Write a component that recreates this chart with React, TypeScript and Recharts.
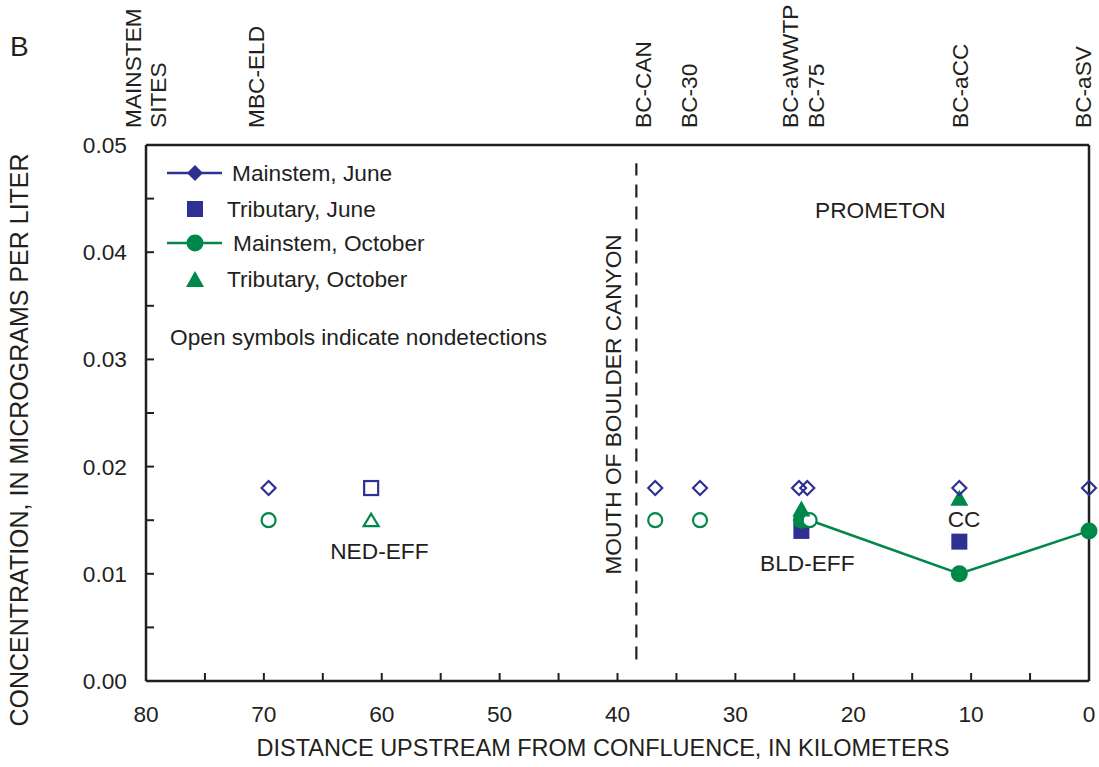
import React from 'react';
import { ScatterChart, Scatter, XAxis, YAxis, ReferenceLine, ReferenceDot } from 'recharts';

const BLUE = '#2e3192';
const GREEN = '#00874a';
const INK = '#231f20';
const FONT = '"Liberation Sans", Arial, Helvetica, sans-serif';
const FS = 22.7;

// ---------- data ----------
const mainJuneKm = [69.6, 36.8, 33.0, 24.6, 23.9, 11.0, 0];
const mainJuneConc = [0.018, 0.018, 0.018, 0.018, 0.018, 0.018, 0.018];
const mainJuneDetected = [false, false, false, false, false, false, false];

const tribJuneKm = [60.9, 24.4, 11.0];
const tribJuneConc = [0.018, 0.014, 0.013];
const tribJuneDetected = [false, true, true];

const mainOctKm = [69.6, 36.8, 33.0, 24.4, 23.7, 11.0, 0];
const mainOctConc = [0.015, 0.015, 0.015, 0.015, 0.015, 0.01, 0.014];
const mainOctDetected = [false, false, false, true, false, true, true];

const octLineKm = [23.7, 11.0, 0];
const octLineConc = [0.015, 0.01, 0.014];

const tribOctKm = [60.9, 24.4, 11.0];
const tribOctConc = [0.015, 0.016, 0.017];
const tribOctDetected = [false, true, true];

const siteKm = [69.6, 36.8, 33.0, 24.6, 23.9, 11.0, 0];
const siteNames = ['MBC-ELD', 'BC-CAN', 'BC-30', 'BC-aWWTP', 'BC-75', 'BC-aCC', 'BC-aSV'];

const xTicks = [80, 70, 60, 50, 40, 30, 20, 10, 0];
const xMinorTicks = [80, 75, 70, 65, 60, 55, 50, 45, 40, 35, 30, 25, 20, 15, 10, 5, 0];
const yTicks = [0, 0.01, 0.02, 0.03, 0.04, 0.05];
const yMinorTicks = [0, 0.005, 0.01, 0.015, 0.02, 0.025, 0.03, 0.035, 0.04, 0.045, 0.05];

const canyonKm = 38.4;
const canyonFrom = 0.002;
const canyonTo = 0.0483;

const annotationText = ['PROMETON', 'NED-EFF', 'BLD-EFF', 'CC'];
const annotationKm = [17.7, 60.2, 23.9, 10.6];
const annotationConc = [0.0439, 0.0121, 0.011, 0.0151];
const canyonLabel = 'MOUTH OF BOULDER CANYON';
const canyonLabelKm = 40.4;
const canyonLabelConc = 0.0258;

// label nudges (pixels) for site names on the top axis
const siteLabelShift: Record<string, number> = {
  'MBC-ELD': -13, 'BC-CAN': -12, 'BC-30': -11, 'BC-aWWTP': -9, 'BC-75': 9, 'BC-aCC': 1, 'BC-aSV': -6,
};

const build = (km: number[], conc: number[], det?: boolean[]) =>
  km.map((k, i) => ({ km: k, conc: conc[i], detected: det ? det[i] : true }));

const mainJune = build(mainJuneKm, mainJuneConc, mainJuneDetected);
const tribJune = build(tribJuneKm, tribJuneConc, tribJuneDetected);
const mainOct = build(mainOctKm, mainOctConc, mainOctDetected);
const octLine = build(octLineKm, octLineConc);
const tribOct = build(tribOctKm, tribOctConc, tribOctDetected);

// ---------- shapes ----------
const DiamondShape = (props: any) => {
  const { cx, cy, payload } = props;
  const h = 7;
  const filled = payload && payload.detected;
  return (
    <path
      d={`M${cx},${cy - h}L${cx + h},${cy}L${cx},${cy + h}L${cx - h},${cy}Z`}
      fill={filled ? BLUE : 'none'}
      stroke={BLUE}
      strokeWidth={2.2}
    />
  );
};

const SquareShape = (props: any) => {
  const { cx, cy, payload } = props;
  if (payload && payload.detected) {
    return <rect x={cx - 8} y={cy - 8} width={16} height={16} fill={BLUE} />;
  }
  return <rect x={cx - 7} y={cy - 7} width={14} height={14} fill="none" stroke={BLUE} strokeWidth={2.2} />;
};

const CircleShape = (props: any) => {
  const { cx, cy, payload } = props;
  if (payload && payload.detected) {
    return <circle cx={cx} cy={cy} r={8.5} fill={GREEN} />;
  }
  return <circle cx={cx} cy={cy} r={7} fill="#ffffff" stroke={GREEN} strokeWidth={2.2} />;
};

const TriangleShape = (props: any) => {
  const { cx, cy, payload } = props;
  if (payload && payload.detected) {
    return <path d={`M${cx},${cy - 9}L${cx + 9},${cy + 7}L${cx - 9},${cy + 7}Z`} fill={GREEN} />;
  }
  return (
    <path
      d={`M${cx},${cy - 6.5}L${cx + 7.5},${cy + 6}L${cx - 7.5},${cy + 6}Z`}
      fill="none"
      stroke={GREEN}
      strokeWidth={2.2}
      strokeLinejoin="miter"
    />
  );
};

const NoShape = () => <g />;
const NoTick = () => <g />;

const renderSiteTick = (props: any) => {
  const { x, y, payload } = props;
  const v = payload ? Number(payload.value) : NaN;
  let idx = 0;
  let best = Infinity;
  siteKm.forEach((k, i) => {
    const d = Math.abs(k - v);
    if (d < best) {
      best = d;
      idx = i;
    }
  });
  const name = siteNames[idx];
  const dx = siteLabelShift[name] || 0;
  return (
    <text
      transform={`translate(${x + dx},${y}) rotate(-90)`}
      textAnchor="start"
      dominantBaseline="central"
      fontSize={FS}
      fontFamily={FONT}
      fill={INK}
    >
      {name}
    </text>
  );
};

const labelStyle = { fontSize: FS, fontFamily: FONT, fill: INK };

export default function App() {
  return (
    <div style={{ position: 'absolute', left: 0, top: 0, width: 1099, height: 767, background: '#fff' }}>
      <ScatterChart
        width={1099}
        height={767}
        margin={{ top: 0, right: 10, bottom: 0, left: 0 }}
        style={{ fontFamily: FONT }}
      >
        <XAxis
          dataKey="km"
          type="number"
          domain={[0, 80]}
          reversed
          ticks={xTicks}
          interval={0}
          height={86}
          tickLine={false}
          tickSize={0}
          tickMargin={25}
          axisLine={{ stroke: INK, strokeWidth: 2.5 }}
          tick={{ fontSize: FS, fill: INK, fontFamily: FONT }}
        />
        <XAxis
          xAxisId="minor"
          dataKey="km"
          type="number"
          domain={[0, 80]}
          reversed
          orientation="bottom"
          mirror
          ticks={xMinorTicks}
          interval={0}
          tick={NoTick}
          axisLine={false}
          tickSize={8}
          tickLine={{ stroke: INK, strokeWidth: 2 }}
        />
        <XAxis
          xAxisId="top"
          dataKey="km"
          type="number"
          domain={[0, 80]}
          reversed
          orientation="top"
          height={145}
          ticks={siteKm}
          interval={0}
          tickLine={false}
          tickSize={0}
          tickMargin={17}
          axisLine={{ stroke: INK, strokeWidth: 2.5 }}
          tick={renderSiteTick}
        />
        <YAxis
          dataKey="conc"
          type="number"
          domain={[0, 0.05]}
          ticks={yTicks}
          interval={0}
          width={146}
          tickLine={false}
          tickSize={0}
          tickMargin={19}
          tickFormatter={(v: number) => v.toFixed(2)}
          axisLine={{ stroke: INK, strokeWidth: 2.5 }}
          tick={{ fontSize: FS, fill: INK, fontFamily: FONT }}
        />
        <YAxis
          yAxisId="minor"
          dataKey="conc"
          type="number"
          domain={[0, 0.05]}
          orientation="left"
          mirror
          ticks={yMinorTicks}
          interval={0}
          tick={NoTick}
          axisLine={false}
          tickSize={8}
          tickLine={{ stroke: INK, strokeWidth: 2 }}
        />

        <ReferenceLine x={0} stroke={INK} strokeWidth={2.5} ifOverflow="extendDomain" />
        <ReferenceLine
          segment={[
            { x: canyonKm, y: canyonFrom },
            { x: canyonKm, y: canyonTo },
          ]}
          stroke={INK}
          strokeWidth={2.2}
          strokeDasharray="13 9"
        />

        {annotationText.map((t, i) => (
          <ReferenceDot
            key={t}
            x={annotationKm[i]}
            y={annotationConc[i]}
            r={0}
            fill="none"
            stroke="none"
            label={{ value: t, position: 'center', ...labelStyle }}
          />
        ))}
        <ReferenceDot
          x={canyonLabelKm}
          y={canyonLabelConc}
          r={0}
          fill="none"
          stroke="none"
          label={{ value: canyonLabel, position: 'center', angle: -90, ...labelStyle }}
        />

        {/* invisible carriers so the auxiliary axes have data bound to them */}
        <Scatter data={mainJune} xAxisId="top" yAxisId="minor" shape={NoShape} isAnimationActive={false} />
        <Scatter data={mainJune} xAxisId="minor" shape={NoShape} isAnimationActive={false} />

        <Scatter
          name="octLine"
          data={octLine}
          line={{ stroke: GREEN, strokeWidth: 2.5 }}
          shape={NoShape}
          isAnimationActive={false}
        />
        <Scatter name="Tributary, June" data={tribJune} shape={SquareShape} isAnimationActive={false} />
        <Scatter name="Mainstem, October" data={mainOct} shape={CircleShape} isAnimationActive={false} />
        <Scatter name="Tributary, October" data={tribOct} shape={TriangleShape} isAnimationActive={false} />
        <Scatter name="Mainstem, June" data={mainJune} shape={DiamondShape} isAnimationActive={false} />
      </ScatterChart>

      <svg
        width={1099}
        height={767}
        style={{ position: 'absolute', left: 0, top: 0, pointerEvents: 'none' }}
        fontFamily={FONT}
      >
        <text x={10} y={56} fontSize={28} fill={INK}>B</text>
        <text transform="translate(133,128) rotate(-90)" dominantBaseline="central" fontSize={FS} fill={INK}>MAINSTEM</text>
        <text transform="translate(158,128) rotate(-90)" dominantBaseline="central" fontSize={FS} fill={INK}>SITES</text>
        <text
          transform="translate(19,440) rotate(-90)"
          textAnchor="middle"
          dominantBaseline="central"
          fontSize={25}
          fill={INK}
        >
          CONCENTRATION, IN MICROGRAMS PER LITER
        </text>
        <text x={603} y={756} textAnchor="middle" fontSize={23.5} fill={INK}>
          DISTANCE UPSTREAM FROM CONFLUENCE, IN KILOMETERS
        </text>

        {/* legend */}
        <line x1={167} x2={222} y1={173} y2={173} stroke={BLUE} strokeWidth={2.5} />
        <path d="M195,165L203,173L195,181L187,173Z" fill={BLUE} />
        <text x={232} y={181} fontSize={FS} fill={INK}>Mainstem, June</text>

        <rect x={187} y={201} width={16} height={16} fill={BLUE} />
        <text x={227} y={217} fontSize={FS} fill={INK}>Tributary, June</text>

        <line x1={167} x2={222} y1={243} y2={243} stroke={GREEN} strokeWidth={2.5} />
        <circle cx={195} cy={243} r={8.5} fill={GREEN} />
        <text x={233} y={251} fontSize={FS} fill={INK}>Mainstem, October</text>

        <path d="M195,271L204,287L186,287Z" fill={GREEN} />
        <text x={227} y={287} fontSize={FS} fill={INK}>Tributary, October</text>

        <text x={170} y={345} fontSize={FS} fill={INK}>Open symbols indicate nondetections</text>
      </svg>
    </div>
  );
}
